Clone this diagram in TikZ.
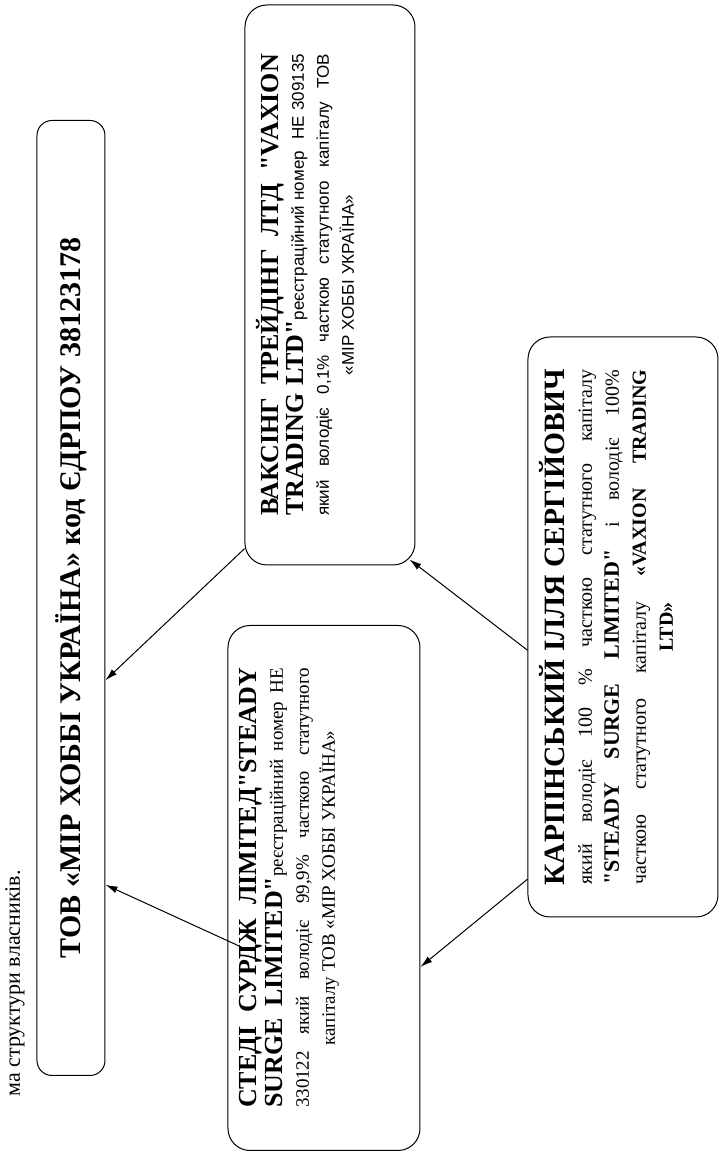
\documentclass[tikz,border=0pt]{standalone}
\usepackage{fontspec}
\setmainfont{Liberation Serif}
\newfontfamily\serif{Liberation Serif}
\newfontfamily\arialfont{Liberation Sans}
\usepackage{tikz}
\usetikzlibrary{arrows.meta,calc}
\tikzset{>={Latex[width=7pt,length=12pt]}}
\tikzset{
  owner/.style={draw, line width=1pt, rounded corners=22pt, inner sep=0pt},
  about/.style={anchor=north, align=center, inner sep=12pt},
  share/.style={->, line width=1pt}
}
\newcommand\fillline[2]{\makebox[#1][s]{#2}}

\begin{document}
\begin{tikzpicture}[x=1pt, y=1pt]

  \useasboundingbox (-728,0) rectangle (0,1160);

  % the scheme lies on its side, so it is drawn upright here
  \begin{scope}[rotate=90, transform shape]

  \node[anchor=base east, inner sep=0pt] (title) at (290,708)
    {\serif\fontsize{22}{26}\selectfont ма структури власників.};

  % company
  \node[owner, rounded corners=15pt, minimum width=955pt, minimum height=68pt] (firm) at (562,657)
    {\serif\fontsize{30}{36}\selectfont\bfseries ТОВ «МІР ХОББІ УКРАЇНА» код ЄДРПОУ 38123178};

  % owners
  \node[owner, minimum width=560pt, minimum height=170pt] (vax) at (875,398) {};
  \node[about, font=\arialfont\fontsize{17}{25}\selectfont] (vaxtext) at (vax.north)
    {\fillline{462pt}{\serif\bfseries\fontsize{26}{25}\selectfont ВАКСІНГ ТРЕЙДІНГ ЛТД "VAXION}\\
     \fillline{462pt}{{\serif\bfseries\fontsize{26}{25}\selectfont TRADING LTD"}реєстраційний номер~~НЕ 309135}\\
     \fillline{462pt}{який володіє 0,1\% часткою статутного капіталу ТОВ}\\
     «МІР ХОББІ УКРАЇНА»};

  \node[owner, minimum width=525pt, minimum height=192pt] (steady) at (272,404) {};
  \node[about, font=\serif\fontsize{19}{26}\selectfont] (steadytext) at (steady.north)
    {\fillline{440pt}{\bfseries\fontsize{26}{26}\selectfont СТЕДІ СУРДЖ ЛІМІТЕД"STEADY}\\
     \fillline{440pt}{{\bfseries\fontsize{26}{26}\selectfont SURGE LIMITED"}реєстраційний номер НЕ}\\
     \fillline{440pt}{330122 який володіє 99,9\% часткою статутного}\\
     капіталу ТОВ «МІР ХОББІ УКРАЇНА»};

  % person
  \node[owner, minimum width=580pt, minimum height=190pt] (karp) at (533,105) {};
  \node[about, font=\serif\fontsize{20}{27}\selectfont] (karptext) at (karp.north)
    {{\bfseries\fontsize{29.5}{31}\selectfont КАРПІНСЬКИЙ ІЛЛЯ СЕРГІЙОВИЧ}\\
     \fillline{515pt}{який володіє 100 \% часткою статутного капіталу}\\
     \fillline{515pt}{{\bfseries\fontsize{22}{27}\selectfont "STEADY SURGE LIMITED"} і володіє 100\%}\\
     \fillline{515pt}{часткою статутного капіталу {\bfseries «VAXION TRADING}}\\
     {\bfseries LTD»}};

  \draw[share] ($(vax.north west)!0.03!(vax.north east)$) -- ($(firm.south west)!0.414!(firm.south east)$); % vax -> firm
  \draw[share] ($(steady.north west)!0.385!(steady.north east)+(0,-17)$) -- ($(firm.south west)!0.2!(firm.south east)$); % steady -> firm
  \draw[share] ($(karp.north west)!0.46!(karp.north east)$) -- ($(vax.south west)+(6,6)$); % karp -> vax
  \draw[share] ($(karp.north west)!0.066!(karp.north east)$) -- ($(steady.south west)!0.35!(steady.south east)$); % karp -> steady

  \end{scope}

\end{tikzpicture}
\end{document}
